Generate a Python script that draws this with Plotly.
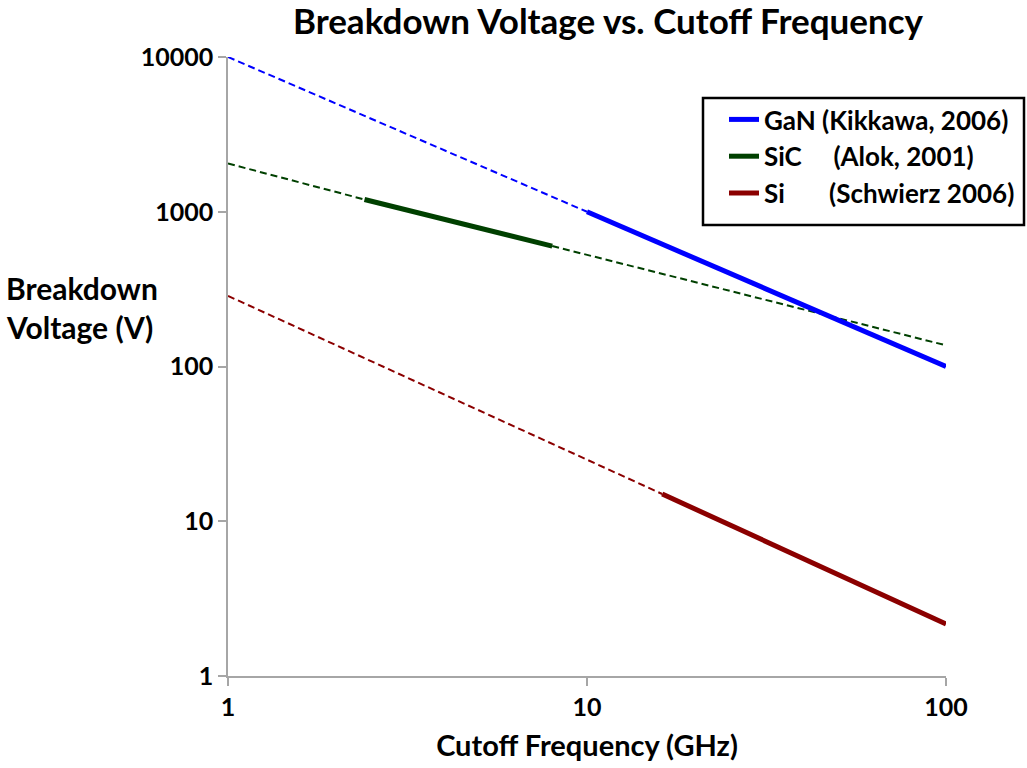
import plotly.graph_objects as go

# Breakdown voltage vs cutoff frequency, log-log
# Each material: extrapolated (dashed) and reported (solid) segments
gan_dash_x = [1, 10]
gan_dash_y = [10000, 1000]
gan_solid_x = [10, 100]
gan_solid_y = [1000, 100]

sic_dash1_x = [1, 2.4]
sic_dash1_y = [2050, 1200]
sic_solid_x = [2.4, 8]
sic_solid_y = [1200, 600]
sic_dash2_x = [8, 100]
sic_dash2_y = [600, 137]

si_dash_x = [1, 16.2]
si_dash_y = [286, 15]
si_solid_x = [16.2, 100]
si_solid_y = [15, 2.17]

x_ticks = [1, 10, 100]
y_ticks = [1, 10, 100, 1000, 10000]

BLUE = "#0000ff"
GREEN = "#004000"
RED = "#8b0000"
FONT = "Lato"
NB = "\u00a0"

# plot area in pixels
W, H = 1027, 768
L, R, T, B = 228, 81, 57, 92
PW, PH = W - L - R, H - T - B

def px_x(p):
    return (p - L) / PW

def px_y(p):
    return (H - B - p) / PH

fig = go.Figure()

def dashed(x, y, color):
    fig.add_trace(go.Scatter(x=x, y=y, mode="lines", showlegend=False,
                             line=dict(color=color, width=2, dash="7px,4px"),
                             hoverinfo="skip"))

def solid(x, y, color, name):
    fig.add_trace(go.Scatter(x=x, y=y, mode="lines", name=name,
                             line=dict(color=color, width=5)))

dashed(gan_dash_x, gan_dash_y, BLUE)
dashed(sic_dash1_x, sic_dash1_y, GREEN)
dashed(sic_dash2_x, sic_dash2_y, GREEN)
dashed(si_dash_x, si_dash_y, RED)

solid(gan_solid_x, gan_solid_y, BLUE, "GaN (Kikkawa, 2006)")
solid(sic_solid_x, sic_solid_y, GREEN, "SiC" + NB * 5 + "(Alok, 2001)")
solid(si_solid_x, si_solid_y, RED, "Si" + NB * 7 + "(Schwierz 2006)")

axis_common = dict(
    type="log", showgrid=False, zeroline=False,
    showline=True, linecolor="#a6a6a6", linewidth=1.5,
    ticks="outside", ticklen=8, tickcolor="#a6a6a6", tickwidth=1.5,
    tickfont=dict(family=FONT, size=25, color="black", weight="bold"),
)

fig.update_xaxes(range=[0, 2], tickvals=x_ticks, ticktext=[str(v) for v in x_ticks],
                 ticklabelstandoff=0,
                 title=dict(text="<b>Cutoff Frequency (GHz)</b>",
                            font=dict(family=FONT, size=29, color="black"), standoff=16),
                 **axis_common)
fig.update_yaxes(range=[0, 4], tickvals=y_ticks, ticktext=[str(v) for v in y_ticks],
                 **axis_common)

# horizontal y-axis title, two lines at the upper left
for txt, yc in [("Breakdown", 288), ("Voltage (V)", 327)]:
    fig.add_annotation(text="<b>" + txt + "</b>", xref="paper", yref="paper",
                       x=px_x(4), y=px_y(yc), xanchor="left", yanchor="middle",
                       align="left", showarrow=False,
                       font=dict(family=FONT, size=30, color="black"))

# legend frame
fig.add_shape(type="rect", xref="paper", yref="paper",
              x0=px_x(703), x1=px_x(1024), y0=px_y(225), y1=px_y(98),
              line=dict(color="black", width=2.5), fillcolor="white", layer="below")

fig.update_layout(
    width=W, height=H,
    margin=dict(l=L, r=R, t=T, b=B, autoexpand=False),
    paper_bgcolor="white", plot_bgcolor="rgba(0,0,0,0)",
    title=dict(text="<b>Breakdown Voltage vs. Cutoff Frequency</b>",
               x=608 / W, xanchor="center", y=1 - 22 / H, yanchor="middle",
               font=dict(family=FONT, size=35, color="black")),
    legend=dict(x=px_x(724), y=px_y(96), xanchor="left", yanchor="top",
                borderwidth=0, bgcolor="rgba(0,0,0,0)",
                font=dict(family=FONT, size=26, color="black", weight="bold"),
                itemwidth=30),
    showlegend=True,
)

fig.write_html("out.html")
